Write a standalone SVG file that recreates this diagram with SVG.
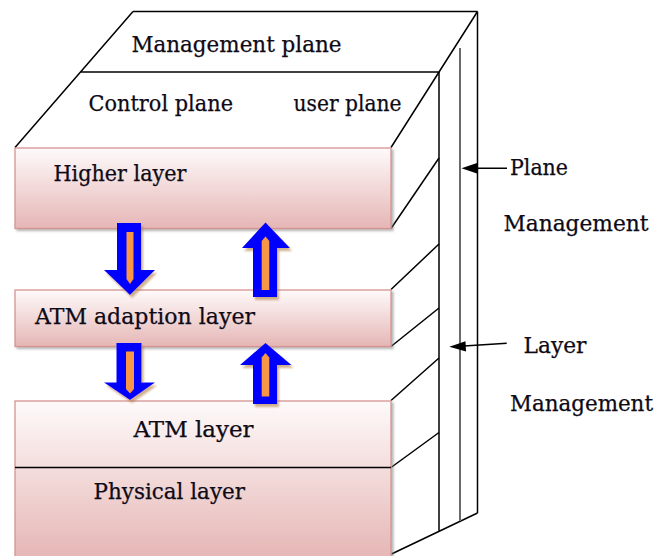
<svg xmlns="http://www.w3.org/2000/svg" width="670" height="556" viewBox="0 0 670 556">
  <defs>
    <linearGradient id="pinkFade" x1="0" y1="0" x2="0" y2="1">
      <stop offset="0" stop-color="#fefafa"/>
      <stop offset="1" stop-color="#e5b6b5"/>
    </linearGradient>
    <filter id="boxShadow" x="-5%" y="-10%" width="115%" height="130%">
      <feDropShadow dx="2" dy="2" stdDeviation="1.2" flood-color="#808080" flood-opacity="0.55"/>
    </filter>
    <filter id="arrowShadow" x="-30%" y="-20%" width="170%" height="150%">
      <feDropShadow dx="2" dy="3" stdDeviation="1.3" flood-color="#b07a40" flood-opacity="0.6"/>
    </filter>
  </defs>
  <style>
    .frame { fill: none; stroke: #000; stroke-width: 1.5; }
    .frame-grey { fill: none; stroke: #6a6a6a; stroke-width: 2; }
    .layer { fill: url(#pinkFade); stroke: #d49492; stroke-width: 1.3; filter: url(#boxShadow); }
    .label { font-family: "DejaVu Serif", "Liberation Serif", serif; font-size: 22px; fill: #0e0a16; stroke: #0e0a16; stroke-width: 0.25; }
    .block-out { fill: #0000ff; }
    .block-in { fill: #f79646; }
    .pointer { fill: none; stroke: #000; stroke-width: 1.4; }
    .pointer-head { fill: #000; }
  </style>

  <rect width="670" height="556" fill="#ffffff"/>

  <!-- stack outline: top faces, right side faces -->
  <g id="stack-frame">
    <path class="frame" d="M133,11.5 H477.5 M133,11.5 L15,147.5 M80.5,72 H439 M477.5,11.5 L391,147.5"/>
    <path class="frame" d="M477.5,11.5 V513 M439,72 V531.5 M477.5,513 L391.5,554"/>
    <path class="frame-grey" d="M460,48 V521"/>
    <path class="frame" d="M391,228.5 L439,158 M391,289.5 L439,244 M391,346.5 L439,308 M391,400.5 L439,358 M391,467.5 L439,432.5"/>
  </g>

  <!-- plane labels on the top faces -->
  <g id="management-plane">
    <text class="label" x="131.5" y="51.5" textLength="210" lengthAdjust="spacingAndGlyphs">Management plane</text>
  </g>
  <g id="control-plane">
    <text class="label" x="88.5" y="111" textLength="144.5" lengthAdjust="spacingAndGlyphs">Control plane</text>
  </g>
  <g id="user-plane">
    <text class="label" x="293.5" y="111" textLength="108" lengthAdjust="spacingAndGlyphs">user plane</text>
  </g>

  <!-- protocol layers -->
  <g id="higher-layer">
    <rect class="layer" x="15" y="148" width="376" height="80.5"/>
    <text class="label" x="53.5" y="180.5" textLength="133" lengthAdjust="spacingAndGlyphs">Higher layer</text>
  </g>
  <g id="atm-adaption-layer">
    <rect class="layer" x="15" y="290" width="376" height="56.5"/>
    <text class="label" x="35" y="323.5" textLength="220" lengthAdjust="spacingAndGlyphs">ATM adaption layer</text>
  </g>
  <g id="atm-layer">
    <rect class="layer" x="15" y="401" width="376" height="158"/>
    <text class="label" x="133.5" y="436.5" textLength="120" lengthAdjust="spacingAndGlyphs">ATM layer</text>
  </g>
  <g id="physical-layer">
    <path class="frame" d="M15,467.5 H391"/>
    <text class="label" x="93.5" y="498.5" textLength="151.5" lengthAdjust="spacingAndGlyphs">Physical layer</text>
  </g>

  <!-- management labels on the right -->
  <g id="plane-management">
    <text class="label" x="510" y="175" textLength="58" lengthAdjust="spacingAndGlyphs">Plane</text>
    <text class="label" x="503.5" y="230.5" textLength="145" lengthAdjust="spacingAndGlyphs">Management</text>
  </g>
  <g id="layer-management">
    <text class="label" x="523.5" y="352.5" textLength="63" lengthAdjust="spacingAndGlyphs">Layer</text>
    <text class="label" x="510" y="410.5" textLength="143" lengthAdjust="spacingAndGlyphs">Management</text>
  </g>

  <g id="connectors">
    <!-- block arrows between layers -->
    <g filter="url(#arrowShadow)">
      <polygon class="block-out" points="117,223 141,223 141,270 155,270 130,295 104,270 117,270"/>
      <polygon class="block-in" points="126.5,232 133.5,232 133.5,279 130,284 126.5,279"/>
    </g>
    <g filter="url(#arrowShadow)">
      <polygon class="block-out" points="265.5,222.5 290,248 277,248 277,297 253,297 253,248 242,248"/>
      <polygon class="block-in" points="265.5,236.5 269.3,241 269.3,290 261.7,290 261.7,241"/>
    </g>
    <g filter="url(#arrowShadow)">
      <polygon class="block-out" points="116.5,343 141.5,343 141.5,382.5 155,382.5 130,400 104,382.5 116.5,382.5"/>
      <polygon class="block-in" points="126,351.5 134,351.5 134,389 130,393.5 126,389"/>
    </g>
    <g filter="url(#arrowShadow)">
      <polygon class="block-out" points="265.5,343 291.5,365 277,365 277,404 253,404 253,365 240,365"/>
      <polygon class="block-in" points="265.5,353 269.3,357.5 269.3,396.5 261.7,396.5 261.7,357.5"/>
    </g>

    <!-- pointers to the management lines -->
    <path class="pointer" d="M507,168.3 H472"/>
    <polygon class="pointer-head" points="461.5,168.3 477,163 477,173.6"/>
    <path class="pointer" d="M506.7,343.3 L460,346.2"/>
    <polygon class="pointer-head" points="449.3,346.8 465.5,341.3 466,351.6"/>
  </g>
</svg>
